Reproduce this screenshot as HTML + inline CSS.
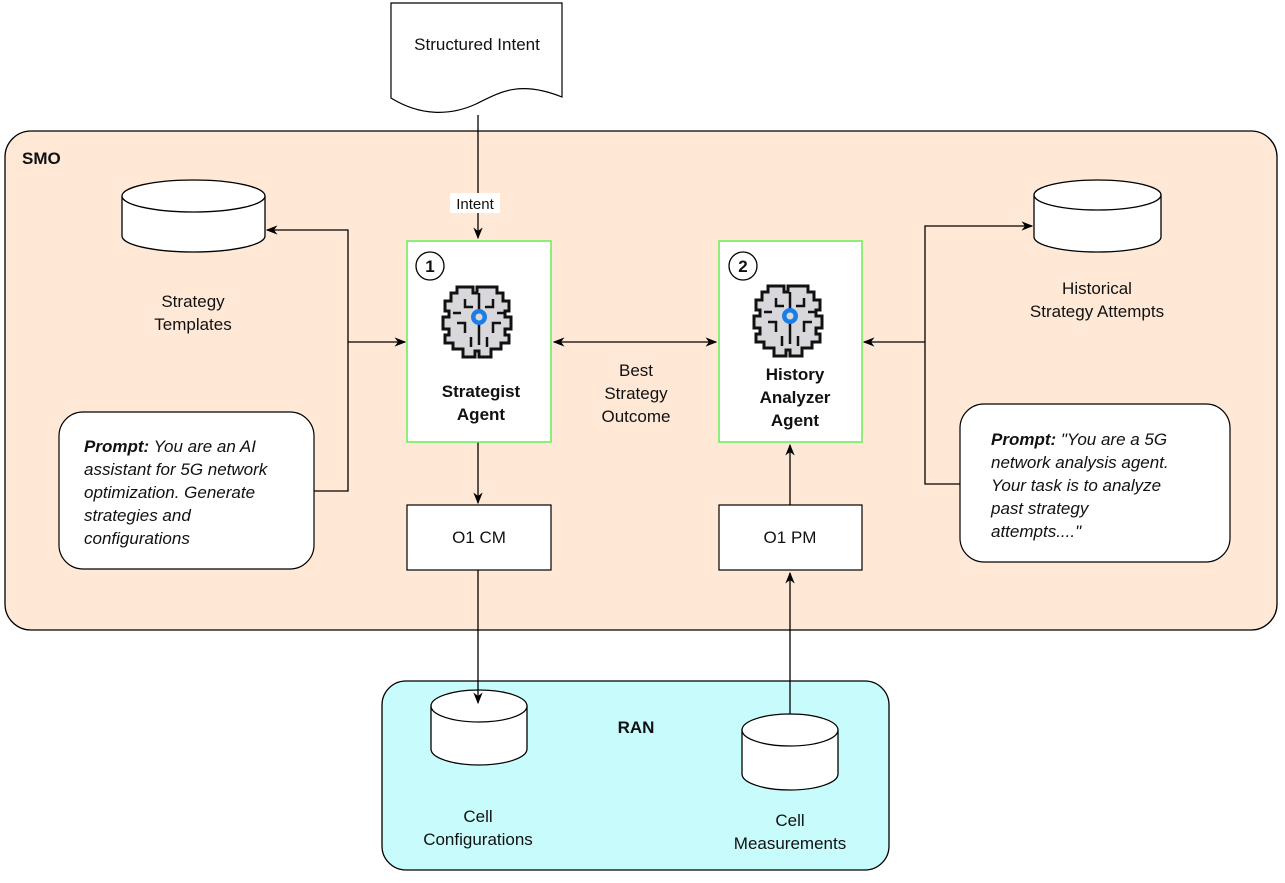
<!DOCTYPE html>
<html><head><meta charset="utf-8"><style>
body{margin:0;background:#fff}
text{font-family:"Liberation Sans",Arial,sans-serif;font-size:17px;fill:#111}
</style></head><body>
<svg width="1285" height="878" viewBox="0 0 1285 878" xmlns="http://www.w3.org/2000/svg">
<defs>
<marker id="a" viewBox="0 0 10 10" refX="9" refY="5" markerWidth="9" markerHeight="9" orient="auto-start-reverse"><path d="M0,1 L10,5 L0,9 L3,5 z" fill="#000"/></marker>
<g id="brain">
<path d="M-22,-30 h16 v6 h4 v-6 h4 v0 h16 v6 h6 v8 h6 v10 h-4 v6 h6 v12 h-6 v6 h4 v8 h-8 v6 h-10 v8 h-12 v-6 h-4 v6 h-12 v-8 h-10 v-6 h-8 v-8 h4 v-6 h-6 v-12 h6 v-6 h-4 v-10 h6 v-8 h6 z" fill="#d8d8dc" stroke="#111" stroke-width="3"/>
<path d="M0,-24 v52 M-14,-18 v8 h8 M14,-18 v8 h-8 M-22,6 h8 v10 M22,6 h-8 v10 M-8,20 v10 M8,20 v10 M-26,-4 h8 M26,-4 h-8" fill="none" stroke="#111" stroke-width="2.5"/>
<circle r="8" fill="#1a7ee6"/><circle r="3.5" fill="#d8d8dc"/>
</g>
</defs>
<rect x="5" y="131" width="1272" height="499" rx="26" fill="#ffe9d6" stroke="#000" stroke-width="1.3"/>
<text x="22" y="164" style="font-weight:bold">SMO</text>
<rect x="382" y="681" width="507" height="189" rx="24" fill="#c8fcfc" stroke="#000" stroke-width="1.3"/>
<text x="636" y="733" text-anchor="middle" style="font-weight:bold">RAN</text>
<!-- document -->
<path d="M391,3 H562 V97 C520,80 500,92 476,104 C450,116 420,116 391,98 Z" fill="#fff" stroke="#000" stroke-width="1.2"/>
<text x="477" y="50" text-anchor="middle">Structured Intent</text>
<!-- cylinders -->
<g fill="#fff" stroke="#000" stroke-width="1.3">
<path d="M122,196 V236 A71.5,16 0 0 0 265,236 V196"/><ellipse cx="193.5" cy="196" rx="71.5" ry="16"/>
<path d="M1034,195 V237 A63.5,15 0 0 0 1161,237 V195"/><ellipse cx="1097.5" cy="195" rx="63.5" ry="15"/>
<path d="M431,706 V749 A48,16 0 0 0 527,749 V706"/><ellipse cx="479" cy="706" rx="48" ry="16"/>
<path d="M742,730 V774 A48,16 0 0 0 838,774 V730"/><ellipse cx="790" cy="730" rx="48" ry="16"/>
</g>
<!-- connectors -->
<g stroke="#000" stroke-width="1.3" fill="none">
<path d="M478,115 V238" marker-end="url(#a)"/>
<path d="M554,342 H716" marker-start="url(#a)" marker-end="url(#a)"/>
<path d="M314,491 H348 V230 H267" marker-end="url(#a)"/>
<path d="M348,342 H405" marker-end="url(#a)"/>
<path d="M960,484 H925 V226 H1032" marker-end="url(#a)"/>
<path d="M925,342 H864" marker-end="url(#a)"/>
<path d="M478,442 V503" marker-end="url(#a)"/>
<path d="M478,570 V703" marker-end="url(#a)"/>
<path d="M790,714 V573" marker-end="url(#a)"/>
<path d="M790,505 V445" marker-end="url(#a)"/>
</g>
<rect x="450" y="193" width="50" height="20" fill="#fff"/>
<text x="475" y="209" text-anchor="middle" style="font-size:15px">Intent</text>
<text x="636" y="376" text-anchor="middle">Best</text>
<text x="636" y="399" text-anchor="middle">Strategy</text>
<text x="636" y="422" text-anchor="middle">Outcome</text>
<!-- agents -->
<rect x="407" y="241" width="144" height="201" fill="#fff" stroke="#66ee55" stroke-width="1.5"/>
<circle cx="430" cy="266" r="14" fill="#fff" stroke="#000" stroke-width="1.3"/>
<text x="430" y="272" text-anchor="middle" style="font-weight:bold">1</text>
<use href="#brain" x="479" y="317"/>
<text x="481" y="397" text-anchor="middle" style="font-weight:bold">Strategist</text>
<text x="481" y="420" text-anchor="middle" style="font-weight:bold">Agent</text>
<rect x="719" y="241" width="143" height="201" fill="#fff" stroke="#66ee55" stroke-width="1.5"/>
<circle cx="743" cy="266" r="14" fill="#fff" stroke="#000" stroke-width="1.3"/>
<text x="743" y="272" text-anchor="middle" style="font-weight:bold">2</text>
<use href="#brain" x="790" y="316"/>
<text x="795" y="380" text-anchor="middle" style="font-weight:bold">History</text>
<text x="795" y="403" text-anchor="middle" style="font-weight:bold">Analyzer</text>
<text x="795" y="426" text-anchor="middle" style="font-weight:bold">Agent</text>
<rect x="407" y="505" width="144" height="65" fill="#fff" stroke="#000" stroke-width="1.2"/>
<text x="479" y="543" text-anchor="middle">O1 CM</text>
<rect x="719" y="505" width="143" height="65" fill="#fff" stroke="#000" stroke-width="1.2"/>
<text x="790" y="543" text-anchor="middle">O1 PM</text>
<text x="193" y="307" text-anchor="middle">Strategy</text>
<text x="193" y="330" text-anchor="middle">Templates</text>
<text x="1097" y="294" text-anchor="middle">Historical</text>
<text x="1097" y="317" text-anchor="middle">Strategy Attempts</text>
<text x="478" y="822" text-anchor="middle">Cell</text>
<text x="478" y="845" text-anchor="middle">Configurations</text>
<text x="790" y="826" text-anchor="middle">Cell</text>
<text x="790" y="849" text-anchor="middle">Measurements</text>
<!-- prompts -->
<rect x="59" y="412" width="255" height="157" rx="24" fill="#fff" stroke="#000" stroke-width="1.2"/>
<g style="font-style:italic">
<text x="84" y="452"><tspan style="font-weight:bold">Prompt:</tspan>  You are an AI</text>
<text x="84" y="475">assistant for 5G network</text>
<text x="84" y="498">optimization. Generate</text>
<text x="84" y="521">strategies and</text>
<text x="84" y="544">configurations</text>
</g>
<rect x="960" y="404" width="270" height="158" rx="24" fill="#fff" stroke="#000" stroke-width="1.2"/>
<g style="font-style:italic">
<text x="991" y="445"><tspan style="font-weight:bold">Prompt:</tspan> "You are a 5G</text>
<text x="991" y="468">network analysis agent.</text>
<text x="991" y="491">Your task is to analyze</text>
<text x="991" y="514">past strategy</text>
<text x="991" y="537">attempts...."</text>
</g>
</svg>
</body></html>
